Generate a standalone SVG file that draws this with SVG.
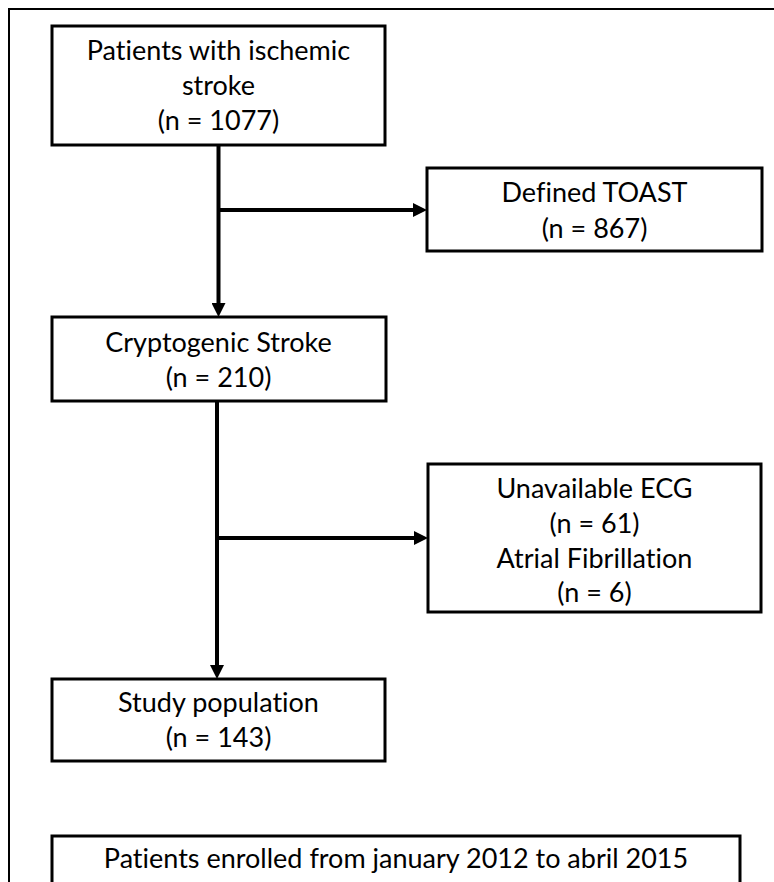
<svg xmlns="http://www.w3.org/2000/svg" width="774" height="882" viewBox="0 0 774 882">
<defs>
<marker id="ah" markerUnits="userSpaceOnUse" markerWidth="14" markerHeight="14" refX="2" refY="7" orient="auto">
<path d="M0,0 L14,7 L0,14 Z" fill="#000"/>
</marker>
<style>
.box{fill:#fff;stroke:#000;stroke-width:3}
.frame{fill:none;stroke:#000;stroke-width:2}
.conn{fill:none;stroke:#000;stroke-width:4}
text{font-family:Lato,"Open Sans",sans-serif;font-size:27px;fill:#000;text-anchor:middle;font-variant-ligatures:none;font-feature-settings:"liga" 0,"clig" 0}
</style>
</defs>
<rect width="774" height="882" fill="#fff"/>
<path class="frame" d="M9,890 L9,9 L790,9"/>
<g id="connectors">
<path class="conn" d="M218.5,145 L218.5,305" marker-end="url(#ah)"/>
<path class="conn" d="M218.5,210 L415,210" marker-end="url(#ah)"/>
<path class="conn" d="M217,401 L217,667" marker-end="url(#ah)"/>
<path class="conn" d="M217,538 L416,538" marker-end="url(#ah)"/>
</g>
<g id="n1">
<rect class="box" x="52" y="26" width="333" height="119"/>
<text x="218.5" y="60">Patients with ischemic</text>
<text x="218.5" y="95">stroke</text>
<text x="218.5" y="130">(n = 1077)</text>
</g>
<g id="n2">
<rect class="box" x="427" y="168" width="335" height="83"/>
<text x="594.5" y="202">Defined TOAST</text>
<text x="594.5" y="238">(n = 867)</text>
</g>
<g id="n3">
<rect class="box" x="52" y="317" width="334" height="84"/>
<text x="218.5" y="352">Cryptogenic Stroke</text>
<text x="218.5" y="387">(n = 210)</text>
</g>
<g id="n4">
<rect class="box" x="428" y="464" width="333" height="148"/>
<text x="594.5" y="498">Unavailable ECG</text>
<text x="594.5" y="533">(n = 61)</text>
<text x="594.5" y="568">Atrial Fibrillation</text>
<text x="594.5" y="602">(n = 6)</text>
</g>
<g id="n5">
<rect class="box" x="52" y="679" width="333" height="82"/>
<text x="218.5" y="712">Study population</text>
<text x="218.5" y="747">(n = 143)</text>
</g>
<g id="n6">
<rect class="box" x="52" y="836" width="688" height="60"/>
<text x="396" y="868">Patients enrolled from january 2012 to abril 2015</text>
</g>
</svg>
